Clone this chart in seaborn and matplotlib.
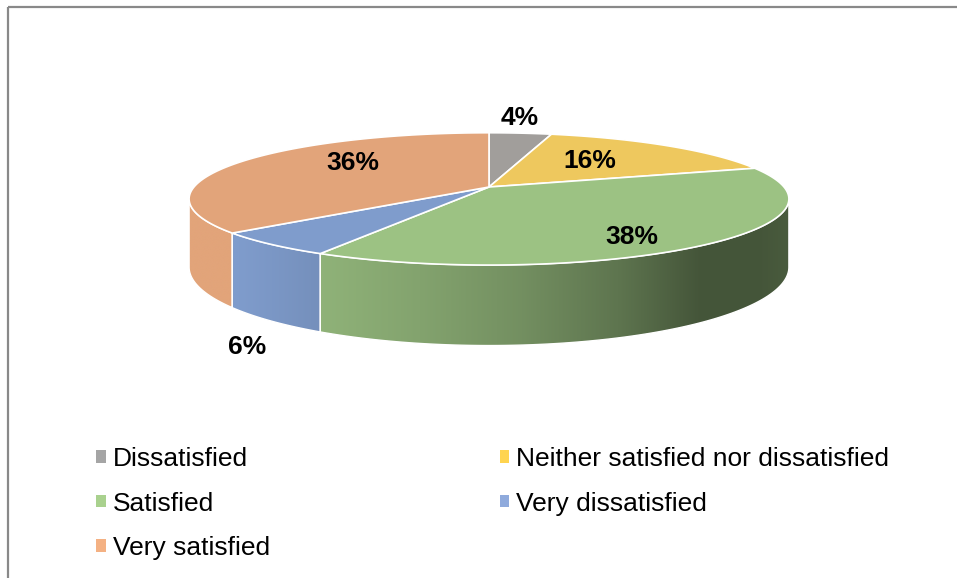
import numpy as np
import matplotlib
matplotlib.use("Agg")
import matplotlib.pyplot as plt
from matplotlib.patches import Polygon, Patch
from matplotlib.colors import to_rgb
import seaborn as sns

# Survey answers, clockwise from 12 o'clock
categories = ["Dissatisfied", "Neither satisfied nor dissatisfied", "Satisfied",
              "Very dissatisfied", "Very satisfied"]
shares = [4, 16, 38, 6, 36]

top_colors = ["#a19e9b", "#eec85e", "#9cc283", "#7f9ccc", "#e2a47a"]
legend_colors = ["#a5a5a5", "#ffd44f", "#a9d18e", "#8faadc", "#f4b183"]

# label anchor points (pixels)
label_xy = [(520, 118), (590, 161), (632, 237), (247, 347), (353, 163)]

sns.set_theme(style="white")
plt.rcParams["font.family"] = ["Liberation Sans", "DejaVu Sans"]
plt.rcParams["text.color"] = "black"

W, H = 957, 578
fig = plt.figure(figsize=(W / 100, H / 100), dpi=100)
ax = fig.add_axes([0, 0, 1, 1])
ax.set_xlim(0, W)
ax.set_ylim(H, 0)
ax.axis("off")

# tilted disc with a little perspective
cx, cy, a, b, k, depth = 489, 187, 295, 64, 0.18, 66


def proj(theta, drop=0.0):
    s = 1.0 / (1.0 + k * np.sin(theta))
    return cx + a * np.cos(theta) * s, cy - b * np.sin(theta) * s + drop * s


# side lighting: bright on the left, dark towards the right-front
shade_x = [0, 240, 320, 420, 520, 620, 700, 760, 800, W]
shade_f = [1.0, 1.0, 0.92, 0.84, 0.74, 0.6, 0.44, 0.44, 0.48, 0.48]

fracs = np.array(shares, dtype=float) / np.sum(shares)
bounds = np.deg2rad(90 - 360 * np.concatenate([[0], np.cumsum(fracs)]))

sil = np.arcsin(k)
vis_lo, vis_hi = -np.pi + sil, -sil

# sides of the front-facing slices
for i in range(len(shares)):
    t_start, t_end = bounds[i], bounds[i + 1]
    lo, hi = max(t_end, vis_lo), min(t_start, vis_hi)
    if lo >= hi:
        continue
    th = np.linspace(lo, hi, 200)
    xt, yt = proj(th)
    xb, yb = proj(th, depth)
    pts = np.column_stack([np.concatenate([xt, xb[::-1]]),
                           np.concatenate([yt, yb[::-1]])])
    poly = Polygon(pts, closed=True, facecolor="none", edgecolor="white",
                   lw=1.0, zorder=3)
    ax.add_patch(poly)
    x0, x1 = pts[:, 0].min(), pts[:, 0].max()
    y0, y1 = pts[:, 1].min(), pts[:, 1].max()
    xs = np.linspace(x0, x1, 400)
    f = np.interp(xs, shade_x, shade_f)
    rgb = np.array(to_rgb(top_colors[i]))
    img = np.clip(f[None, :, None] * rgb[None, None, :], 0, 1)
    img = np.repeat(img, 2, axis=0)
    im = ax.imshow(img, extent=(x0, x1, y1, y0), aspect="auto",
                   interpolation="bilinear", zorder=2)
    im.set_clip_path(poly)

# top faces
for i in range(len(shares)):
    th = np.linspace(bounds[i], bounds[i + 1], 200)
    xr, yr = proj(th)
    pts = np.column_stack([np.concatenate([[cx], xr]), np.concatenate([[cy], yr])])
    ax.add_patch(Polygon(pts, closed=True, facecolor=top_colors[i],
                         edgecolor="white", lw=1.2, zorder=4))

ax.set_xlim(0, W)
ax.set_ylim(H, 0)

# value labels
for (x, y), v in zip(label_xy, shares):
    ax.text(x, y, f"{v}%", ha="center", va="center", fontsize=19,
            fontweight="bold", color="black", zorder=6)

# frame lines
ax.plot([8, W], [7, 7], color="#898989", lw=1.6, solid_capstyle="butt", zorder=7)
ax.plot([8, 8], [7, H], color="#898989", lw=1.6, solid_capstyle="butt", zorder=7)

# legend, filled row by row
order = [0, 2, 4, 1, 3]
handles = [Patch(facecolor=legend_colors[j], edgecolor="none") for j in order]
labels = [categories[j] for j in order]
leg = ax.legend(handles, labels, ncol=2, loc="upper left",
                bbox_to_anchor=(96, 447), bbox_transform=ax.transData,
                frameon=False, fontsize=19, handlelength=0.36, handleheight=0.36,
                handletextpad=0.28, labelspacing=0.78, columnspacing=8.7,
                borderaxespad=0, borderpad=0)
for t in leg.get_texts():
    t.set_color("black")

fig.savefig("out.png", dpi=100, facecolor="white")
